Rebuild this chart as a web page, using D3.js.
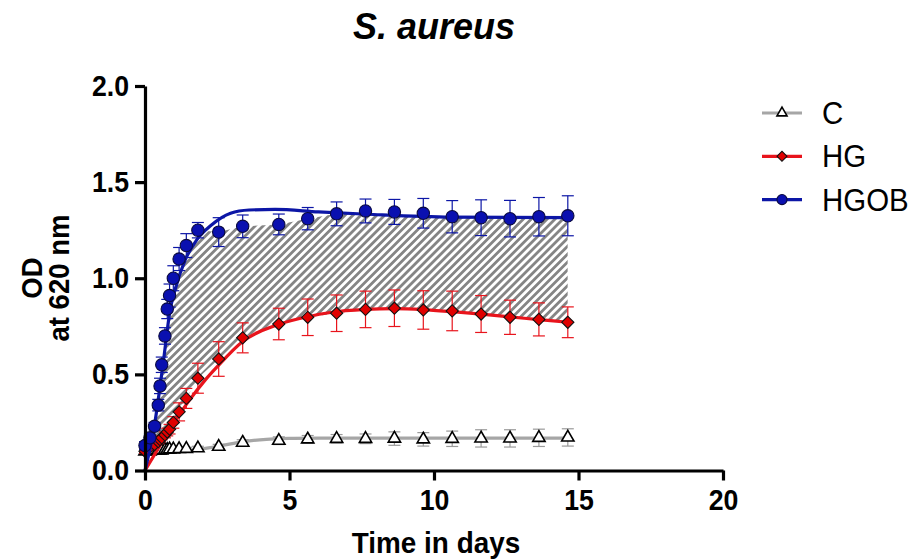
<!DOCTYPE html>
<html>
<head>
<meta charset="utf-8">
<script src="https://cdn.jsdelivr.net/npm/d3@7"></script>
<style>
  body { margin: 0; background: #fff; }
  svg { display: block; font-family: "Liberation Sans", Arial, sans-serif; }
</style>
</head>
<body>
<svg id="chart" width="915" height="560"></svg>
<script>
// measured time points (days)
var days = [0, 0.17, 0.33, 0.46, 0.52, 0.58, 0.69, 0.77, 0.85, 0.98, 1.18, 1.43, 1.83, 2.55,
            3.38, 4.63, 5.63, 6.63, 7.63, 8.63, 9.63, 10.63, 11.63, 12.63, 13.63, 14.63];

// means and SD
var hgob   = [0.13, 0.17, 0.23, 0.34, 0.44, 0.55, 0.70, 0.84, 0.91, 1.00, 1.10, 1.17, 1.25, 1.24,
              1.27, 1.28, 1.31, 1.335, 1.35, 1.345, 1.338, 1.32, 1.315, 1.31, 1.32, 1.325];
var hgobSD = [0.02, 0.02, 0.02, 0.03, 0.04, 0.04, 0.043, 0.05, 0.06, 0.065, 0.06, 0.062, 0.04, 0.075,
              0.059, 0.054, 0.058, 0.062, 0.062, 0.065, 0.077, 0.084, 0.093, 0.095, 0.1, 0.104];
var hg     = [0.10, 0.12, 0.135, 0.15, 0.16, 0.17, 0.185, 0.20, 0.215, 0.25, 0.305, 0.375, 0.48, 0.58,
              0.69, 0.762, 0.797, 0.818, 0.838, 0.844, 0.835, 0.83, 0.814, 0.797, 0.786, 0.771];
var hgSD   = [0.01, 0.01, 0.01, 0.01, 0.01, 0.01, 0.015, 0.02, 0.025, 0.03, 0.047, 0.052, 0.078, 0.09,
              0.078, 0.082, 0.095, 0.095, 0.095, 0.095, 0.1, 0.103, 0.096, 0.089, 0.086, 0.08];
var ctrl   = [0.10, 0.10, 0.105, 0.105, 0.105, 0.105, 0.108, 0.108, 0.11, 0.11, 0.112, 0.113, 0.116, 0.124,
              0.145, 0.155, 0.162, 0.165, 0.165, 0.166, 0.162, 0.165, 0.167, 0.167, 0.17, 0.172];
var ctrlSD = [0.005, 0.005, 0.005, 0.005, 0.005, 0.005, 0.005, 0.005, 0.005, 0.005, 0.008, 0.008, 0.01, 0.012,
              0.015, 0.02, 0.02, 0.022, 0.025, 0.035, 0.035, 0.04, 0.045, 0.045, 0.045, 0.045];

// fitted curves
var hgobFitX = [0, 0.3, 0.63, 0.87, 1.04, 1.39, 1.79, 2.3, 2.96, 3.6, 4.5, 6, 7.7, 10.6, 14.63];
var hgobFitY = [0, 0.21, 0.56, 0.835, 0.94, 1.095, 1.2, 1.277, 1.338, 1.355, 1.358, 1.345, 1.333, 1.318, 1.315];
var hgFitX   = [0, 0.46, 0.92, 1.5, 2.08, 2.5, 3.37, 4.63, 5.63, 6.42, 7.63, 8.63, 9.63, 10.63, 11.63, 12.63, 13.63, 14.63];
var hgFitY   = [0, 0.115, 0.228, 0.358, 0.47, 0.54, 0.67, 0.76, 0.80, 0.822, 0.838, 0.842, 0.837, 0.826, 0.813, 0.799, 0.785, 0.771];
var cFitX    = [0, 1, 1.5, 2, 2.6, 3.4, 4.2, 5, 6, 8, 10, 12, 14.63];
var cFitY    = [0.095, 0.1, 0.104, 0.113, 0.128, 0.15, 0.162, 0.167, 0.168, 0.168, 0.168, 0.168, 0.168];

var xTicks = [0, 5, 10, 15, 20];
var yTicks = [0, 0.5, 1.0, 1.5, 2.0];
var legendNames = ["C", "HG", "HGOB"];

var svg = d3.select("#chart");

var x = d3.scaleLinear().domain([0, 20]).range([145, 723]);
var y = d3.scaleLinear().domain([0, 2]).range([470.5, 86]);

var colors = { C: "#a6a6a6", HG: "#e8141c", HGOB: "#0c16a6" };

// hatch pattern
var defs = svg.append("defs");
var pat = defs.append("pattern")
    .attr("id", "hatch")
    .attr("patternUnits", "userSpaceOnUse")
    .attr("width", 5.6).attr("height", 5.6)
    .attr("patternTransform", "rotate(45)");
pat.append("rect").attr("width", 5.6).attr("height", 5.6).attr("fill", "#858585");
pat.append("rect").attr("width", 2.8).attr("height", 5.6).attr("fill", "#fff");

var zip = function(xs, ys) { return xs.map(function(d, i) { return [d, ys[i]]; }); };

// clip the hatch under the HGOB fit
defs.append("clipPath").attr("id", "underfit")
  .append("path")
    .attr("d", d3.area().x(function(d) { return x(d[0]); })
        .y0(y(0)).y1(function(d) { return y(d[1]); })
        .curve(d3.curveMonotoneX)(zip(hgobFitX, hgobFitY)));

// shaded difference between HGOB and HG
svg.append("path")
    .attr("clip-path", "url(#underfit)")
    .attr("fill", "url(#hatch)")
    .attr("d", d3.area()
        .x(function(i) { return x(days[i]); })
        .y0(function(i) { return y(hg[i]); })
        .y1(function(i) { return y(hgob[i]); })(d3.range(days.length)));

var line = d3.line().x(function(d) { return x(d[0]); }).y(function(d) { return y(d[1]); })
    .curve(d3.curveMonotoneX);

var series = [
  { name: "C",    fx: cFitX,    fy: cFitY,    v: ctrl, sd: ctrlSD },
  { name: "HG",   fx: hgFitX,   fy: hgFitY,   v: hg,   sd: hgSD },
  { name: "HGOB", fx: hgobFitX, fy: hgobFitY, v: hgob, sd: hgobSD }
];

function marker(name, g, size) {
  if (name == "C") {
    g.append("path")
      .attr("d", d3.symbol().type(d3.symbolTriangle).size(size * 0.55)())
      .attr("fill", "#fff").attr("stroke", "#000").attr("stroke-width", 1.6);
  } else if (name == "HG") {
    g.append("path")
      .attr("d", d3.symbol().type(d3.symbolSquare).size(size * 0.62)())
      .attr("transform", "rotate(45)")
      .attr("fill", "#e00000").attr("stroke", "#111").attr("stroke-width", 1.1);
  } else {
    g.append("path")
      .attr("d", d3.symbol().type(d3.symbolCircle).size(size)())
      .attr("fill", "#0a10b0").attr("stroke", "#0a0a40").attr("stroke-width", 1.1);
  }
}

series.forEach(function(s) {
  var col = colors[s.name];
  var g = svg.append("g").attr("class", "series " + s.name);

  g.append("path")
      .attr("d", line(zip(s.fx, s.fy)))
      .attr("fill", "none")
      .attr("stroke", col)
      .attr("stroke-width", 3.2);

  // error bars
  var eb = g.append("g").attr("stroke", s.name == "C" ? "#9a9a9a" : col).attr("stroke-width", 1.2);
  days.forEach(function(d, i) {
    var cx = x(d), top = y(s.v[i] + s.sd[i]), bot = y(s.v[i] - s.sd[i]);
    eb.append("line").attr("x1", cx).attr("x2", cx).attr("y1", top).attr("y2", bot);
    eb.append("line").attr("x1", cx - 6).attr("x2", cx + 6).attr("y1", top).attr("y2", top);
    eb.append("line").attr("x1", cx - 6).attr("x2", cx + 6).attr("y1", bot).attr("y2", bot);
  });

  days.forEach(function(d, i) {
    var m = g.append("g").attr("transform", "translate(" + x(d) + "," + y(s.v[i]) + ")");
    marker(s.name, m, 120);
  });
});

// axes
var yAxis = svg.append("g")
    .attr("transform", "translate(" + x(0) + ",0)")
    .call(d3.axisLeft(y).tickValues(yTicks).tickFormat(d3.format(".1f")).tickSize(10).tickSizeOuter(0).tickPadding(6));
var xAxis = svg.append("g")
    .attr("transform", "translate(0," + y(0) + ")")
    .call(d3.axisBottom(x).tickValues(xTicks).tickSize(10).tickSizeOuter(0).tickPadding(8));

[yAxis, xAxis].forEach(function(a) {
  a.select(".domain").attr("stroke", "#000").attr("stroke-width", 3.2);
  a.selectAll(".tick line").attr("stroke", "#000").attr("stroke-width", 3.2);
  a.selectAll(".tick text")
    .attr("fill", "#000")
    .style("font-size", "29px")
    .style("font-weight", "bold")
    .style("font-family", "'Liberation Sans', Arial, sans-serif");
});
yAxis.selectAll(".tick text").attr("x", -16 / 0.92).attr("transform", "scale(0.92,1)");
xAxis.selectAll(".tick text").attr("y", 16).attr("dy", "0.82em").attr("transform", "scale(0.92,1)");

// titles
svg.append("text")
    .attr("x", 434).attr("y", 39)
    .attr("text-anchor", "middle")
    .style("font-size", "36px").style("font-weight", "bold").style("font-style", "italic")
    .text("S. aureus");

svg.append("text")
    .attr("transform", "translate(436,553) scale(0.93,1)")
    .attr("text-anchor", "middle")
    .style("font-size", "30px").style("font-weight", "bold")
    .text("Time in days");

var ylab = svg.append("text")
    .attr("transform", "translate(42,278) rotate(-90) scale(0.95,1)")
    .attr("text-anchor", "middle")
    .style("font-size", "29px").style("font-weight", "bold");
ylab.append("tspan").attr("x", 0).attr("y", 0).text("OD");
ylab.append("tspan").attr("x", 0).attr("y", 27).text("at 620 nm");

// legend
var legend = svg.append("g");
legendNames.forEach(function(n, i) {
  var row = legend.append("g").attr("transform", "translate(762," + (113 + i * 43.3) + ")");
  row.append("line").attr("x1", 0).attr("x2", 40).attr("y1", 0).attr("y2", 0)
      .attr("stroke", colors[n]).attr("stroke-width", 3.2);
  var m = row.append("g").attr("transform", "translate(20,0)");
  marker(n, m, 80);
  row.append("text")
      .attr("transform", "translate(60,0) scale(0.95,1)")
      .attr("dy", "0.36em")
      .style("font-size", "31px")
      .text(n);
});
</script>
</body>
</html>
